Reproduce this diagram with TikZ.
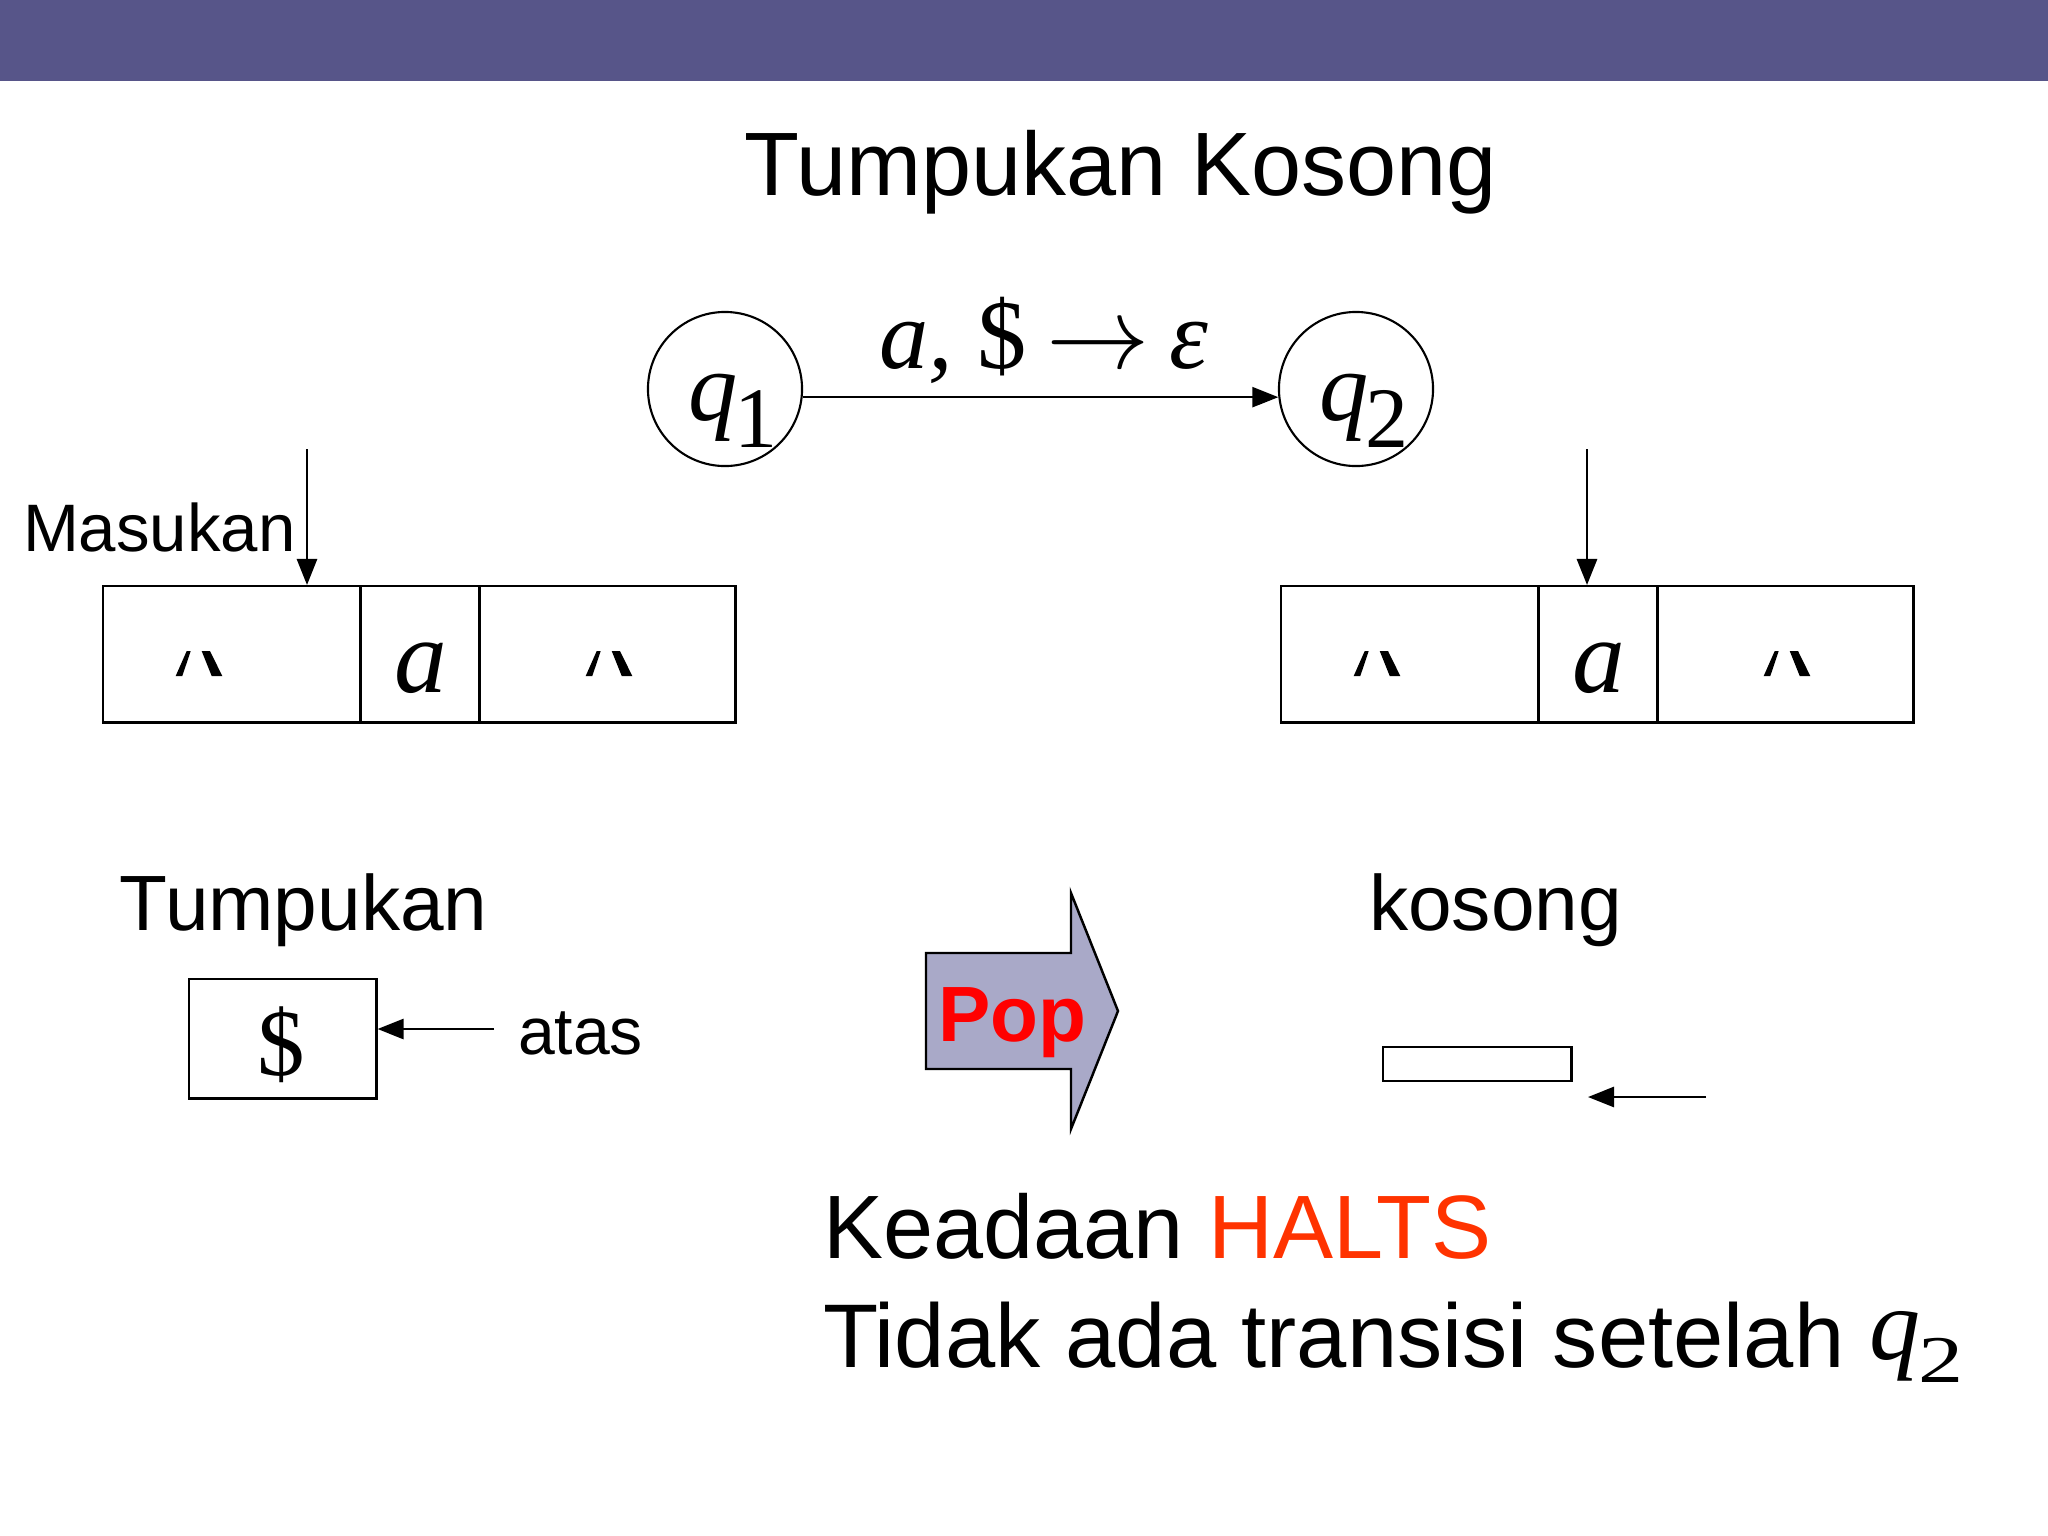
\documentclass[tikz,border=0pt]{standalone}
\usepackage{fontspec}
\setmainfont{Liberation Sans}
\newfontfamily\tnr{Liberation Serif}
\usetikzlibrary{arrows.meta}
\newcommand\fsz[1]{\fontsize{#1}{#1}\selectfont}
\definecolor{barcol}{RGB}{87,85,137}
\definecolor{popfill}{RGB}{169,169,200}
\definecolor{haltcol}{RGB}{255,51,0}
\tikzset{
  txt/.style={inner sep=0pt, outer sep=0pt, anchor=base west},
  arr/.style={-{Triangle[length=0.26cm,width=0.2cm]}, line width=0.8pt},
  cell/.style={draw, line width=0.7pt, anchor=north west, minimum height=1.36cm, inner sep=0pt},
  statec/.style={draw, circle, line width=0.6pt, minimum size=1.54cm, inner sep=0pt},
  blanksym/.pic={
    \fill (-23.3,13) -- (-16.7,13) -- (-8.3,-12) -- (-12.3,-12) -- cycle;
    \fill (2.7,-12) -- (11,-12) -- (23.3,13) -- (12.7,13) -- cycle;
  }
}
\begin{document}
\begin{tikzpicture}[x=0.01cm,y=-0.01cm]
\useasboundingbox (0,0) rectangle (2048,1536);
\fill[white] (0,0) rectangle (2048,1536);
% top bar
\fill[barcol] (0,0) rectangle (2048,81);

% title
\node[txt, anchor=base] (title) at (1121,195) {\fsz{25.6pt}Tumpukan Kosong};

% states
\node[statec] (q1) at (725,389) {};
\node[statec] (q2) at (1356,389) {};
\node[txt] (q1lab) at (688,420) {\tnr\fsz{28pt}\itshape q\kern-0.03cm\raisebox{-0.27cm}{\fsz{24.5pt}\upshape 1}};
\node[txt] (q2lab) at (1319,420) {\tnr\fsz{28pt}\itshape q\kern-0.03cm\raisebox{-0.27cm}{\fsz{24.5pt}\upshape 2}};
\draw[arr, line width=0.7pt] (q1.-6) -- (q2.186);
\node[txt, anchor=base] (trans) at (1044,368) {\tnr\fsz{28pt}\itshape a,\kern0.25em\upshape\$\kern0.2em\scalebox{1.18}{$\rightarrow$}\kern0.2em\itshape ε};

% left tape
\node[cell, minimum width=2.57cm] (L1) at (102,585) {};
\node[cell, minimum width=1.19cm] (L2) at (359,585) {};
\node[cell, minimum width=2.56cm] (L3) at (478,585) {};
\pic at (199,663) {blanksym};
\pic at (609,663) {blanksym};
\node[txt, anchor=base] (La) at (421,692) {\tnr\fsz{30pt}\itshape a};
\node[txt] (masukan) at (23,551) {\fsz{19.1pt}Masukan};
\coordinate (inL) at (307,449);
\draw[arr] (inL) -- (inL |- L1.north);

% right tape
\node[cell, minimum width=2.57cm] (R1) at (1280,585) {};
\node[cell, minimum width=1.19cm] (R2) at (1537,585) {};
\node[cell, minimum width=2.56cm] (R3) at (1656,585) {};
\pic at (1377,663) {blanksym};
\pic at (1787,663) {blanksym};
\node[txt, anchor=base] (Ra) at (1599,692) {\tnr\fsz{30pt}\itshape a};
\coordinate (inR) at (1587,449);
\draw[arr] (inR) -- (inR |- R2.north);

% left stack
\node[txt] (tumpukan) at (120,930) {\fsz{22.3pt}Tumpukan};
\node[draw, line width=0.7pt, anchor=north west, minimum width=1.87cm, minimum height=1.19cm, inner sep=0pt] (stk) at (188,978) {};
\node[inner sep=0pt] (dollar) at (281,1045) {\tnr\fsz{27pt}\$};
\coordinate (atasS) at (494,1029);
\draw[arr] (atasS) -- (stk.east |- atasS);
\node[txt] (atas) at (518,1054) {\fsz{18.8pt}atas};

% pop arrow
\draw[fill=popfill, line width=0.7pt, line join=miter] (926,953) -- (1071,953) -- (1071,893) -- (1118,1011) -- (1071,1129) -- (1071,1069) -- (926,1069) -- cycle;
\node[txt] (pop) at (938,1041) {\fsz{22.3pt}\bfseries\color{red}Pop};

% right stack
\node[txt] (kosong) at (1369,930) {\fsz{22.3pt}kosong};
\node[draw, line width=0.7pt, anchor=north west, minimum width=1.88cm, minimum height=0.34cm, inner sep=0pt] (stk2) at (1382,1046) {};
\coordinate (kS) at (1706,1097);
\coordinate (kE) at (1588,1097);
\draw[arr] (kS) -- (kE);

% bottom text
\node[txt] (halt) at (823,1258) {\fsz{25.6pt}Keadaan \textcolor{haltcol}{HALTS}};
\node[txt] (notr) at (823,1367) {\fsz{25.7pt}Tidak ada transisi setelah \raisebox{0.08cm}{\tnr\fsz{29pt}\itshape q}\kern-0.02cm\raisebox{-0.15cm}{\scalebox{1.35}[1]{\tnr\fsz{19pt}2}}};
\end{tikzpicture}
\end{document}
